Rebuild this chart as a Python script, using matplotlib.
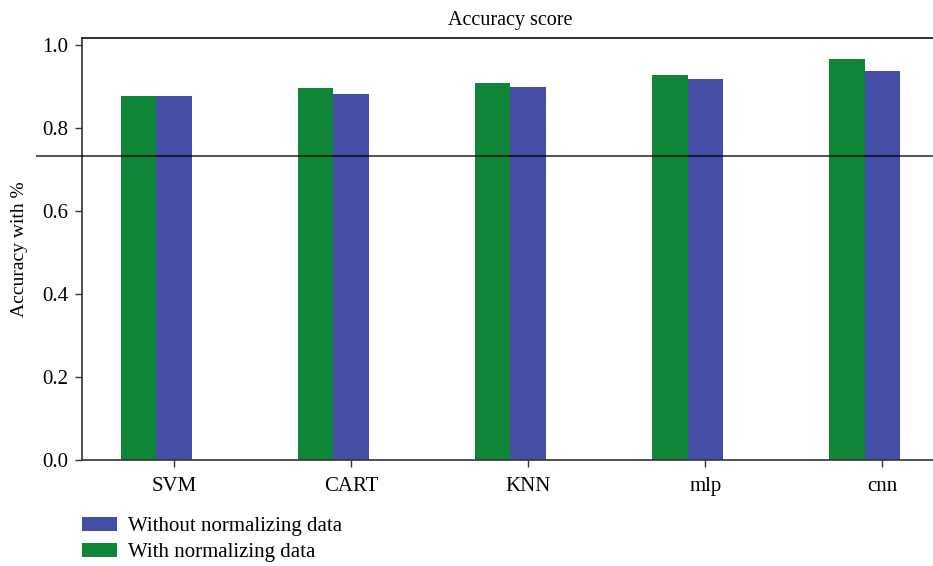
import matplotlib.pyplot as plt
import matplotlib.transforms as mtransforms
import numpy as np

plt.rcParams['font.family'] = ['Liberation Serif', 'DejaVu Serif']

models = ['SVM', 'CART', 'KNN', 'mlp', 'cnn']
with_norm = [0.877, 0.896, 0.908, 0.928, 0.966]
without_norm = [0.877, 0.880, 0.899, 0.918, 0.937]
ref_line = 0.733

green = '#0f8537'
blue = '#454ea7'

fig = plt.figure(figsize=(9.33, 5.66), dpi=100)
ax = fig.add_axes([82 / 933, 106 / 566, 857 / 933, 422 / 566])

x = np.arange(len(models))
w = 0.2
b1 = ax.bar(x - w, with_norm, w, color=green, label='With normalizing data')
b2 = ax.bar(x, without_norm, w, color=blue, label='Without normalizing data')

ax.set_ylim(0, 1.016)
ax.set_xticks(x)
ax.set_xticklabels(models, fontsize=15)
ax.set_yticks([0, 0.2, 0.4, 0.6, 0.8, 1.0])
ax.set_yticklabels(['0.0', '0.2', '0.4', '0.6', '0.8', '1.0'], fontsize=15)
ax.tick_params(length=5, width=1, color='#333333', pad=5)
ax.tick_params(axis='x', pad=7)
ax.set_ylabel('Accuracy with %', fontsize=14, labelpad=10)
ax.set_title('Accuracy score', fontsize=14.5, pad=9)
for s in ax.spines.values():
    s.set_color('#333333')
    s.set_linewidth(1.2)
ax.spines['top'].set_color('#111111')

# horizontal reference line running across the figure
trans = mtransforms.blended_transform_factory(fig.transFigure, ax.transData)
ax.plot([37 / 933, 1.0], [ref_line, ref_line], color='black', alpha=0.65, lw=1.5,
        transform=trans, clip_on=False, zorder=5)

leg = fig.legend([b2, b1], ['Without normalizing data', 'With normalizing data'],
                 loc='upper left', bbox_to_anchor=(82 / 933, 1 - 517 / 566),
                 bbox_transform=fig.transFigure, frameon=False, fontsize=15,
                 handlelength=1.68, handleheight=0.67, labelspacing=0.3,
                 handletextpad=0.53, borderpad=0, borderaxespad=0)

fig.savefig('out.png', dpi=100)
